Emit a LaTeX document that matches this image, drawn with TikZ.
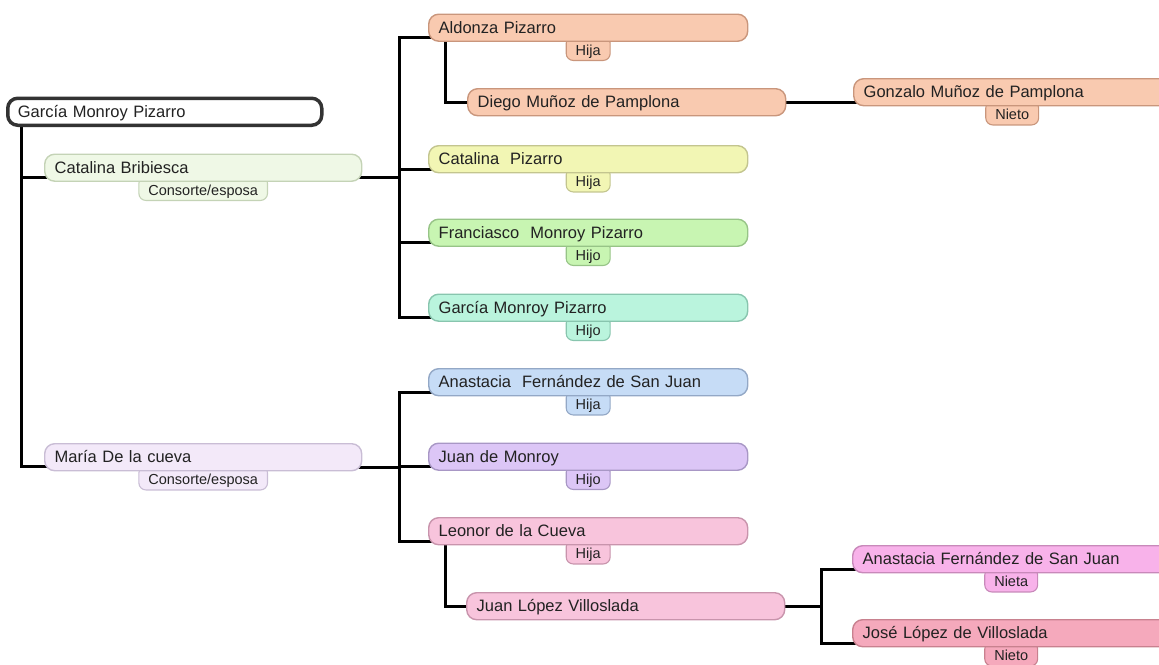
\documentclass[tikz,border=0pt]{standalone}
\usepackage{fontspec}
\setmainfont{Liberation Sans}
\usetikzlibrary{backgrounds}
\definecolor{txt}{HTML}{222222}
\definecolor{rootD}{HTML}{333333}
\definecolor{cbF}{HTML}{EFF8E6}\definecolor{cbD}{HTML}{C4D3B6}
\definecolor{maF}{HTML}{F3E9F9}\definecolor{maD}{HTML}{C9BDD5}
\definecolor{peF}{HTML}{F9CAB0}\definecolor{peD}{HTML}{C9967C}
\definecolor{yeF}{HTML}{F2F6B4}\definecolor{yeD}{HTML}{C3C58F}
\definecolor{grF}{HTML}{C8F5B2}\definecolor{grD}{HTML}{97C487}
\definecolor{miF}{HTML}{BAF4DD}\definecolor{miD}{HTML}{88C5AE}
\definecolor{blF}{HTML}{C6DCF6}\definecolor{blD}{HTML}{93A8C6}
\definecolor{laF}{HTML}{DCC6F6}\definecolor{laD}{HTML}{A897C5}
\definecolor{piF}{HTML}{F8C4DC}\definecolor{piD}{HTML}{C894AC}
\definecolor{mgF}{HTML}{F8B2EA}\definecolor{mgD}{HTML}{C889BA}
\definecolor{roF}{HTML}{F5A9BC}\definecolor{roD}{HTML}{C8818F}
\begin{document}
\begin{tikzpicture}[x=1pt,y=-1pt,
  box/.style 2 args={draw=#2, fill=#1, line width=1.4pt, rounded corners=10pt,
    anchor=north west, minimum height=27pt, text height=12pt, text depth=1pt,
    inner ysep=0pt, inner xsep=10pt, text width=297pt, align=left,
    font=\fontsize{16.5}{18}\selectfont, text=txt},
  tag/.style 2 args={draw=#2, fill=#1, line width=1.1pt, rounded corners=7pt,
    anchor=north, minimum height=24pt, text height=14pt, text depth=0pt,
    inner ysep=0pt, inner xsep=9.5pt, font=\fontsize{14.5}{14.5}\selectfont, text=txt},
  link/.style={line width=3pt, black}
]
\useasboundingbox (0,0) rectangle (1159,664);
\clip (0,0) rectangle (1159,664);

% main nodes
\node[box={white}{rootD}, line width=3.5pt, text width=294pt] (root) at (6,96.5) {García Monroy Pizarro};
\node[box={cbF}{cbD}] (cb) at (44,153.5) {Catalina Bribiesca};
\node[box={maF}{maD}] (maria) at (44,443) {María De la cueva};

\node[box={peF}{peD}, text width=299pt] (ald) at (428,13.5) {Aldonza Pizarro};
\node[box={peF}{peD}, text width=298pt] (diego) at (467,88) {Diego Muñoz de Pamplona};
\node[box={peF}{peD}] (gon) at (853,78) {Gonzalo Muñoz de Pamplona};
\node[box={yeF}{yeD}, text width=299pt] (catp) at (428,145) {Catalina\ \ Pizarro};
\node[box={grF}{grD}, text width=299pt] (fran) at (428,218.5) {Franciasco\ \ Monroy Pizarro};
\node[box={miF}{miD}, text width=299pt] (garc) at (428,293.5) {García Monroy Pizarro};
\node[box={blF}{blD}, text width=299pt] (ana) at (428,368) {Anastacia\ \ Fernández de San Juan};
\node[box={laF}{laD}, text width=299pt] (juan) at (428,442.5) {Juan de Monroy};
\node[box={piF}{piD}, text width=299pt] (leo) at (428,517) {Leonor de la Cueva};
\node[box={piF}{piD}, text width=298pt] (jl) at (466,592) {Juan López Villoslada};
\node[box={mgF}{mgD}] (anan) at (852,545) {Anastacia Fernández de San Juan};
\node[box={roF}{roD}] (jose) at (852,619) {José López de Villoslada};

\begin{scope}[on background layer]
  % tags
  \node[tag={cbF}{cbD}] (cb-t) at ([yshift=6pt]cb.south) {Consorte/esposa};
  \node[tag={maF}{maD}] (maria-t) at ([yshift=6pt]maria.south) {Consorte/esposa};
  \node[tag={peF}{peD}] (ald-t) at ([yshift=6pt]ald.south) {Hija};
  \node[tag={peF}{peD}] (gon-t) at ([yshift=6pt]gon.south) {Nieto};
  \node[tag={yeF}{yeD}] (catp-t) at ([yshift=6pt]catp.south) {Hija};
  \node[tag={grF}{grD}] (fran-t) at ([yshift=6pt]fran.south) {Hijo};
  \node[tag={miF}{miD}] (garc-t) at ([yshift=6pt]garc.south) {Hijo};
  \node[tag={blF}{blD}] (ana-t) at ([yshift=6pt]ana.south) {Hija};
  \node[tag={laF}{laD}] (juan-t) at ([yshift=6pt]juan.south) {Hijo};
  \node[tag={piF}{piD}] (leo-t) at ([yshift=6pt]leo.south) {Hija};
  \node[tag={mgF}{mgD}] (anan-t) at ([yshift=6pt]anan.south) {Nieta};
  \node[tag={roF}{roD}] (jose-t) at ([yshift=6pt]jose.south) {Nieto};

  % connectors
  \draw[link] ([xshift=15pt,yshift=2pt]root.south west) |- ([xshift=6pt,yshift=4pt]cb.south west);
  \draw[link] ([xshift=15pt,yshift=2pt]root.south west) |- ([xshift=6pt,yshift=5pt]maria.south west);

  \coordinate (j1) at ([xshift=37pt,yshift=4pt]cb.south east);
  \draw[link] ([xshift=-6pt,yshift=4pt]cb.south east) -- (j1);
  \draw[link] (j1) |- ([xshift=6pt,yshift=4pt]ald.south west);
  \draw[link] (j1) |- ([xshift=6pt,yshift=4pt]catp.south west);
  \draw[link] (j1) |- ([xshift=6pt,yshift=4pt]fran.south west);
  \draw[link] (j1) |- ([xshift=6pt,yshift=4pt]garc.south west);

  \draw[link] ([xshift=17pt,yshift=2pt]ald.south west) |- ([xshift=6pt]diego.west);
  \draw[link] ([xshift=-6pt]diego.east) -- ([xshift=6pt]diego.east -| gon.west);

  \coordinate (j2) at ([xshift=37pt,yshift=4pt]maria.south east);
  \draw[link] ([xshift=-6pt,yshift=4pt]maria.south east) -- (j2);
  \draw[link] (j2) |- ([xshift=6pt,yshift=4pt]ana.south west);
  \draw[link] (j2) |- ([xshift=6pt,yshift=4pt]juan.south west);
  \draw[link] (j2) |- ([xshift=6pt,yshift=4pt]leo.south west);

  \draw[link] ([xshift=17pt,yshift=2pt]leo.south west) |- ([xshift=6pt]jl.west);

  \coordinate (j3) at ([xshift=36pt]jl.east);
  \draw[link] ([xshift=-6pt]jl.east) -- (j3);
  \draw[link] (j3) |- ([xshift=6pt,yshift=4pt]anan.south west);
  \draw[link] (j3) |- ([xshift=6pt,yshift=4pt]jose.south west);
\end{scope}
\end{tikzpicture}
\end{document}
